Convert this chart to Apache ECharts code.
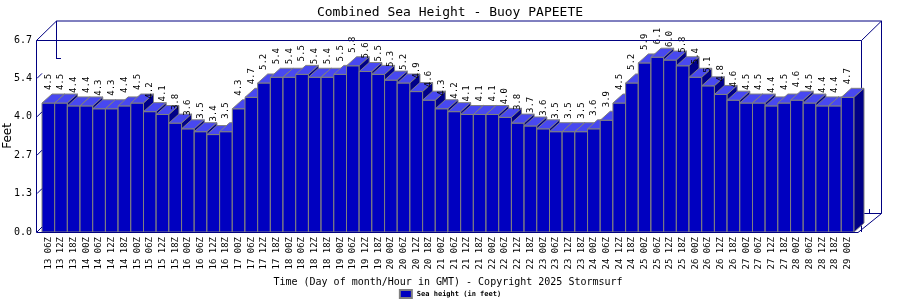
<!DOCTYPE html>
<html>
<head>
<meta charset="utf-8">
<script src="https://cdn.jsdelivr.net/npm/echarts@6/dist/echarts.min.js"></script>
<style>html,body{margin:0;padding:0;background:#fff}#c{width:900px;height:300px}</style>
</head>
<body>
<div id="c"></div>
<script>
const categories = [
  '13 06Z','13 12Z','13 18Z',
  '14 00Z','14 06Z','14 12Z','14 18Z',
  '15 00Z','15 06Z','15 12Z','15 18Z',
  '16 00Z','16 06Z','16 12Z','16 18Z',
  '17 00Z','17 06Z','17 12Z','17 18Z',
  '18 00Z','18 06Z','18 12Z','18 18Z',
  '19 00Z','19 06Z','19 12Z','19 18Z',
  '20 00Z','20 06Z','20 12Z','20 18Z',
  '21 00Z','21 06Z','21 12Z','21 18Z',
  '22 00Z','22 06Z','22 12Z','22 18Z',
  '23 00Z','23 06Z','23 12Z','23 18Z',
  '24 00Z','24 06Z','24 12Z','24 18Z',
  '25 00Z','25 06Z','25 12Z','25 18Z',
  '26 00Z','26 06Z','26 12Z','26 18Z',
  '27 00Z','27 06Z','27 12Z','27 18Z',
  '28 00Z','28 06Z','28 12Z','28 18Z',
  '29 00Z'
];
const seaHeight = [
  4.5,4.5,4.4,
  4.4,4.3,4.3,4.4,
  4.5,4.2,4.1,3.8,
  3.6,3.5,3.4,3.5,
  4.3,4.7,5.2,5.4,
  5.4,5.5,5.4,5.4,
  5.5,5.8,5.6,5.5,
  5.3,5.2,4.9,4.6,
  4.3,4.2,4.1,4.1,
  4.1,4.0,3.8,3.7,
  3.6,3.5,3.5,3.5,
  3.6,3.9,4.5,5.2,
  5.9,6.1,6.0,5.8,
  5.4,5.1,4.8,4.6,
  4.5,4.5,4.4,4.5,
  4.6,4.5,4.4,4.4,
  4.7
];
const yTickLabels = ['0.0','1.3','2.7','4.0','5.4','6.7'];
const yMax = 6.7;
const seriesName = 'Sea height (in feet)';

const MONO = '"DejaVu Sans Mono", "Liberation Mono", monospace';
const NAVY = '#000080';
const FRONT = '#0000C0';
const TOPC = '#4848F0';
const SIDE = '#000088';
const EDGE = '#808080';
const BAR_DX = 10, BAR_DY = 9;
const GL = 42, GR = 46, GT = 40, GB = 68;
const BOX_DX = 20, BOX_DY = 19;

const chart = echarts.init(document.getElementById('c'), null, {renderer: 'canvas'});

function renderItem(params, api) {
  const i = api.value(0), v = api.value(1);
  const top = api.coord([i, v]);
  const base = api.coord([i, 0]);
  const w = api.size([1, 0])[0];
  const x = top[0] - w / 2, yt = top[1], yb = base[1];
  return {
    type: 'group',
    children: [
      {type: 'rect', shape: {x: x, y: yt, width: w, height: yb - yt},
       style: {fill: FRONT, stroke: EDGE, lineWidth: 1}},
      {type: 'polygon', shape: {points: [[x, yt], [x + BAR_DX, yt - BAR_DY], [x + w + BAR_DX, yt - BAR_DY], [x + w, yt]]},
       style: {fill: TOPC, stroke: EDGE, lineWidth: 1}},
      {type: 'polygon', shape: {points: [[x + w, yt], [x + w + BAR_DX, yt - BAR_DY], [x + w + BAR_DX, yb - BAR_DY], [x + w, yb]]},
       style: {fill: SIDE, stroke: EDGE, lineWidth: 1}},
      {type: 'text', x: top[0], y: yt - BAR_DY - 4, rotation: Math.PI / 2, z2: 100,
       style: {text: v.toFixed(1), align: 'left', verticalAlign: 'middle', fill: '#000', font: '9px ' + MONO}}
    ]
  };
}

chart.setOption({
  animation: false,
  backgroundColor: '#fff',
  title: {text: 'Combined Sea Height - Buoy PAPEETE', left: 'center', top: 1,
          textStyle: {fontFamily: MONO, fontSize: 13, fontWeight: 'normal', color: '#000'}},
  legend: {bottom: 0, left: 'center', itemWidth: 12, itemHeight: 8, icon: 'rect', padding: [1, 5],
           data: [seriesName],
           textStyle: {fontFamily: MONO, fontSize: 7, color: '#000', fontWeight: 'bold'}},
  grid: {left: GL, right: GR, top: GT, bottom: GB, containLabel: false, outerBoundsMode: 'none'},
  xAxis: {type: 'category', data: categories, boundaryGap: true,
          axisLine: {show: false}, axisTick: {show: false},
          axisLabel: {rotate: 90, interval: 0, margin: 5, fontFamily: MONO, fontSize: 9, color: '#000'},
          name: 'Time (Day of month/Hour in GMT) - Copyright 2025 Stormsurf',
          nameLocation: 'middle', nameGap: 45, nameMoveOverlap: false,
          nameTextStyle: {fontFamily: MONO, fontSize: 10, color: '#000'}},
  yAxis: {type: 'value', min: 0, max: yMax, interval: yMax / 5,
          axisLine: {show: false}, axisTick: {show: false}, splitLine: {show: false},
          axisLabel: {margin: 10, fontFamily: MONO, fontSize: 10, color: '#000',
                      formatter: function (val) { const k = Math.round(val / (yMax / 5)); return yTickLabels[k]; }},
          name: 'Feet', nameLocation: 'middle', nameGap: 28, nameMoveOverlap: false,
          nameTextStyle: {fontFamily: '"DejaVu Sans", sans-serif', fontSize: 12, color: '#000'}},
  series: [{
    name: seriesName, type: 'custom', renderItem: renderItem,
    itemStyle: {color: FRONT, borderColor: EDGE, borderWidth: 1},
    encode: {x: 0, y: 1},
    data: seaHeight.map(function (v, i) { return [i, v]; })
  }]
});

// frame (3D box) drawn from the grid's own pixel extents
const yTop = chart.convertToPixel({yAxisIndex: 0}, yMax);
const yBot = chart.convertToPixel({yAxisIndex: 0}, 0);
const x0 = chart.convertToPixel({xAxisIndex: 0}, 0);
const xN = chart.convertToPixel({xAxisIndex: 0}, categories.length - 1);
const band = (xN - x0) / (categories.length - 1);
const fl = Math.round(x0 - band / 2) - 6, fr = Math.round(xN + band / 2) + 7;
function ln(x1, y1, x2, y2, z) {
  return {type: 'line', z: z, silent: true, shape: {x1: x1, y1: y1, x2: x2, y2: y2},
          style: {stroke: NAVY, lineWidth: 1}};
}
const els = [];
// back elements (behind bars)
els.push(ln(fl + BOX_DX + 0.5, yTop - BOX_DY, fr + BOX_DX + 0.5, yTop - BOX_DY, 0));
els.push(ln(fr + BOX_DX + 0.5, yTop - BOX_DY, fr + BOX_DX + 0.5, yBot - BOX_DY + 0.5, 0));
els.push(ln(fl + BOX_DX + 0.5, yTop - BOX_DY, fl + BOX_DX + 0.5, yTop + 18, 0));
els.push(ln(fl + BOX_DX, yTop + 18.5, fl + BOX_DX + 5, yTop + 18.5, 0));
els.push(ln(fr + 2, yBot - BOX_DY + 0.5, fr + BOX_DX + 0.5, yBot - BOX_DY + 0.5, 0));
els.push(ln(fr + 8.5, yBot - BOX_DY - 4, fr + 8.5, yBot - BOX_DY + 0.5, 0));
els.push(ln(fr + 0.5, yTop + 0.5, fr + 0.5, yBot, 0));
els.push(ln(fr + 0.5, yTop + 0.5, fr + BOX_DX + 0.5, yTop - BOX_DY, 0));
// front elements
els.push(ln(fl + 0.5, yTop + 0.5, fr + 0.5, yTop + 0.5, 10));
els.push(ln(fl + 0.5, yTop + 0.5, fl + 0.5, yBot + 0.5, 10));
els.push(ln(fl + 0.5, yTop + 0.5, fl + BOX_DX + 0.5, yTop - BOX_DY, 10));
els.push(ln(fl + 0.5, yBot + 0.5, fr - 3, yBot + 0.5, 10));
els.push(ln(fr - 3, yBot + 0.5, fr + BOX_DX + 0.5, yBot - BOX_DY + 0.5, 10));
for (let k = 0; k < yTickLabels.length - 1; k++) {
  const yy = chart.convertToPixel({yAxisIndex: 0}, k * yMax / 5);
  els.push(ln(fl + 1, yy, fl + 6, yy - 5, 10));
}
chart.setOption({graphic: {elements: els}});
</script>
</body>
</html>
